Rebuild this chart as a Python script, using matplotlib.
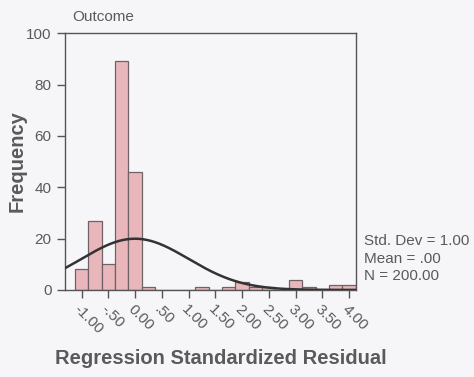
import numpy as np
import matplotlib
matplotlib.use('Agg')
import matplotlib.pyplot as plt

# histogram of standardized residuals (bin width .25)
bin_centers = [-1.00, -0.75, -0.50, -0.25, 0.00, 0.25, 0.50, 0.75, 1.00, 1.25, 1.50,
               1.75, 2.00, 2.25, 2.50, 2.75, 3.00, 3.25, 3.50, 3.75, 4.00]
counts = [8, 27, 10, 89, 46, 1, 0, 0, 0, 1, 0,
          1, 3, 1, 1, 0, 4, 1, 0, 2, 2]
tick_values = [-1.0, -0.5, 0.0, 0.5, 1.0, 1.5, 2.0, 2.5, 3.0, 3.5, 4.0]
tick_labels = ['-1.00', '-.50', '0.00', '.50', '1.00', '1.50',
               '2.00', '2.50', '3.00', '3.50', '4.00']
std_dev = 1.00
mean = 0.00
n_obs = 200
bin_width = 0.25

plt.rcParams['font.family'] = ['Liberation Sans', 'DejaVu Sans']
text_col = '#5a5a5a'
bg = '#f6f6f9'

fig = plt.figure(figsize=(4.74, 3.77), dpi=100, facecolor=bg)
ax = fig.add_axes([0.137, 0.231, 0.614, 0.681], facecolor=bg)

ax.bar(bin_centers, counts, width=bin_width, color='#e9b7bb',
       edgecolor='#6e6264', linewidth=0.9, zorder=2)

# fitted normal curve
xs = np.linspace(-1.4, 4.2, 300)
ys = n_obs * bin_width / (std_dev * np.sqrt(2 * np.pi)) * np.exp(-0.5 * ((xs - mean) / std_dev) ** 2)
ax.plot(xs, ys, color='#333333', linewidth=1.8, zorder=3)

ax.set_xlim(-1.31, 4.13)
ax.set_ylim(0, 100)
ax.set_yticks([0, 20, 40, 60, 80, 100])
ax.set_xticks(tick_values)
ax.set_xticklabels(tick_labels, rotation=-45, ha='left', va='top',
                   rotation_mode='anchor')
ax.tick_params(axis='both', direction='out', length=6, width=1,
               colors='#555555', labelcolor=text_col, labelsize=11)
ax.tick_params(axis='x', pad=3)
for s in ax.spines.values():
    s.set_color('#555555')
    s.set_linewidth(1)

ax.set_ylabel('Frequency', fontsize=14.5, fontweight='bold', color=text_col, labelpad=0)
ax.set_xlabel('Regression Standardized Residual', fontsize=14.5, fontweight='bold',
              color=text_col, labelpad=9)
ax.xaxis.label.set_x(0.535)
fig.text(0.153, 0.956, 'Outcome', fontsize=11, color=text_col, ha='left', va='center')

fig.text(0.768, 0.36, 'Std. Dev = %.2f' % std_dev, fontsize=11, color=text_col, va='center')
fig.text(0.768, 0.313, 'Mean = .00', fontsize=11, color=text_col, va='center')
fig.text(0.768, 0.267, 'N = %.2f' % n_obs, fontsize=11, color=text_col, va='center')

fig.savefig('out.png', dpi=100, facecolor=bg)
